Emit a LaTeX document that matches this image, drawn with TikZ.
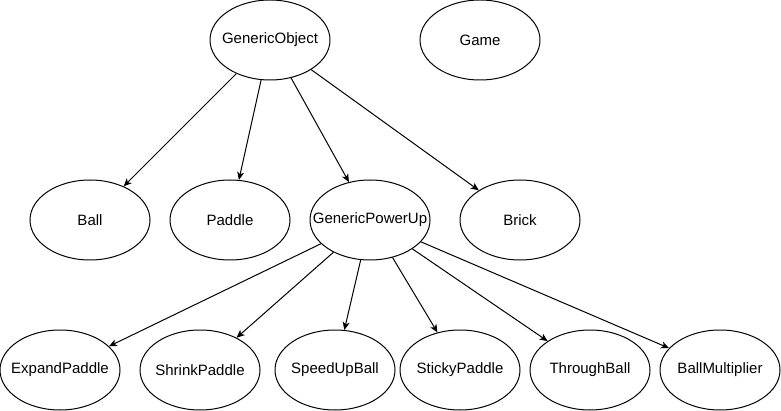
\documentclass[tikz,border=0pt]{standalone}
\usepackage{fontspec}
\setmainfont{Liberation Sans}
\usetikzlibrary{shapes.geometric,arrows.meta}
\newcommand\zlbl[1]{\makebox[0pt][c]{#1}}
\tikzset{
  obj/.style={draw, ellipse, line width=1pt, minimum width=120pt, minimum height=80pt,
    inner sep=0pt, font=\fontsize{15}{18}\selectfont},
  rel/.style={line width=1pt, -{Stealth[length=8pt,width=7pt,inset=2.2pt]}}
}
\begin{document}
\begin{tikzpicture}[x=1pt,y=-1pt]
\useasboundingbox (0,0) rectangle (781,411);
\node[obj] (go) at (270,40) {\zlbl{GenericObject}};
\node[obj] (game) at (480,40) {\zlbl{Game}};
\node[obj] (ball) at (90,220) {\zlbl{Ball}};
\node[obj] (paddle) at (230,220) {\zlbl{Paddle}};
\node[obj] (gpu) at (370,220) {\zlbl{GenericPowerUp}};
\node[obj] (brick) at (520,220) {\zlbl{Brick}};
\node[obj] (ep) at (60,370) {\zlbl{ExpandPaddle}};
\node[obj] (sp) at (200,370) {\zlbl{ShrinkPaddle}};
\node[obj] (sub) at (335,370) {\zlbl{SpeedUpBall}};
\node[obj] (stp) at (460,370) {\zlbl{StickyPaddle}};
\node[obj] (tb) at (590,370) {\zlbl{ThroughBall}};
\node[obj] (bm) at (720,370) {\zlbl{BallMultiplier}};
\draw[rel] (go) -- (ball);
\draw[rel] (go) -- (paddle);
\draw[rel] (go) -- (gpu);
\draw[rel] (go) -- (brick);
\draw[rel] (gpu) -- (ep);
\draw[rel] (gpu) -- (sp);
\draw[rel] (gpu) -- (sub);
\draw[rel] (gpu) -- (stp);
\draw[rel] (gpu) -- (tb);
\draw[rel] (gpu) -- (bm);
\end{tikzpicture}
\end{document}
